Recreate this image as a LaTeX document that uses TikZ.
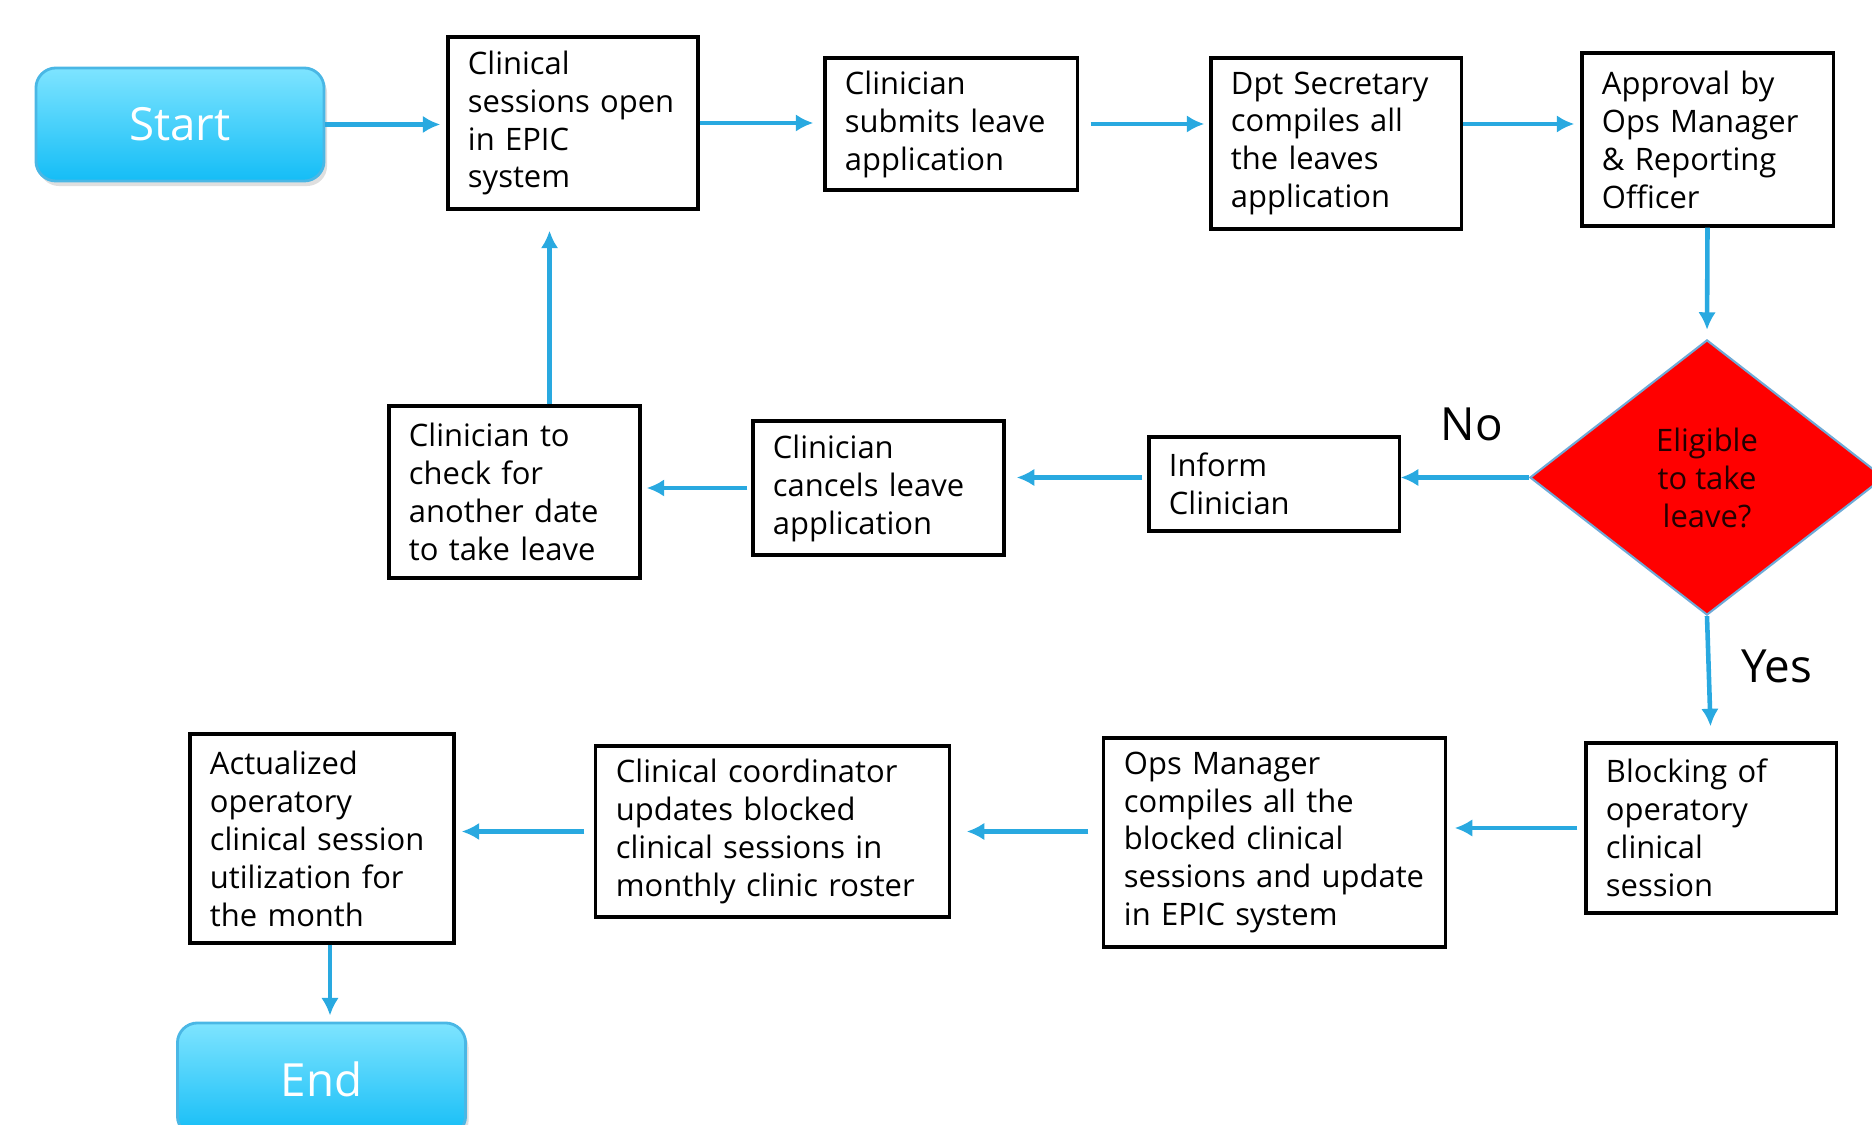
\documentclass[tikz,border=0pt]{standalone}
\usepackage{fontspec}
\setmainfont{Open Sans}
\usetikzlibrary{shapes.geometric,arrows.meta,shadows}

\definecolor{flowblue}{RGB}{41,169,224}
\definecolor{termtop}{RGB}{126,228,255}
\definecolor{termbot}{RGB}{20,189,246}
\definecolor{termedge}{RGB}{74,183,229}
\definecolor{diaedge}{RGB}{110,170,215}
\definecolor{diatext}{RGB}{35,0,0}

\begin{document}
\begin{tikzpicture}[
        x=0.01cm, y=-0.01cm,
        box/.style={draw, line width=0.9pt, fill=white, align=left, inner xsep=0.2cm, inner ysep=0pt,
            font=\fontsize{8.8}{10.8}\selectfont},
        term/.style={draw=termedge, line width=0.8pt, rounded corners=0.2cm, top color=termtop,
            bottom color=termbot, text=white, font=\fontsize{13}{15}\selectfont,
            minimum width=2.88cm, minimum height=1.13cm,
            drop shadow={opacity=0.25, shadow xshift=0.03cm, shadow yshift=-0.05cm}},
        decision/.style={diamond, draw=diaedge, line width=0.6pt, fill=red, text=diatext, align=center,
            minimum width=3.54cm, minimum height=2.75cm, inner sep=0pt,
            font=\fontsize{8.8}{10.8}\selectfont},
        lbl/.style={font=\fontsize{13}{15}\selectfont},
        arr/.style={-{Latex[length=5pt,width=5pt]}, draw=flowblue, line width=1.3pt}
    ]
        \useasboundingbox (0,0) rectangle (1872,1125);

        % Top row
        \node[term] (start) at (180,124.5) {Start};
        \node[box, text width=2.1cm, minimum height=1.72cm] (open) at (573,123)
            {Clinical\\sessions open\\in EPIC\\system};
        \node[box, text width=2.12cm, minimum height=1.32cm] (submit) at (951,124)
            {Clinician\\submits leave\\application};
        \node[box, text width=2.1cm, minimum height=1.71cm] (compile) at (1336,143.5)
            {Dpt Secretary\\compiles all\\the leaves\\application};
        \node[box, text width=2.11cm, minimum height=1.73cm] (approve) at (1707.5,139.5)
            {Approval by\\Ops Manager\\\& Reporting\\Officer};

        % Middle row
        \node[decision] (elig) at (1707,477.5) {Eligible\\to take\\leave?};
        \node[box, text width=2.1cm, minimum height=0.94cm] (inform) at (1274,484)
            {Inform\\Clinician};
        \node[box, text width=2.11cm, minimum height=1.34cm] (cancel) at (878.5,488)
            {Clinician\\cancels leave\\application};
        \node[box, text width=2.11cm, minimum height=1.72cm] (check) at (514.5,492)
            {Clinician to\\check for\\another date\\to take leave};
        \node[lbl] (nolbl) at (1472,424) {No};
        \node[lbl] (yeslbl) at (1777,666) {Yes};

        % Bottom row
        \node[box, text width=2.1cm, minimum height=1.70cm] (block) at (1711,828)
            {Blocking of\\operatory\\clinical\\session};
        \node[box, text width=3.01cm, minimum height=2.09cm] (opsc) at (1274.5,842.5)
            {Ops Manager\\compiles all the\\blocked clinical\\sessions and update\\in EPIC system};
        \node[box, text width=3.13cm, minimum height=1.71cm] (coord) at (772.5,831.5)
            {Clinical coordinator\\updates blocked\\clinical sessions in\\monthly clinic roster};
        \node[box, text width=2.24cm, minimum height=2.09cm] (actual) at (322,838.5)
            {Actualized\\operatory\\clinical session\\utilization for\\the month};
        \node[term] (end) at (321.5,1079.5) {End};

        % Connectors
        \draw[arr, shorten >=0.06cm] (start.east) -- (start.east -| open.west);
        \draw[arr, shorten >=0.1cm] (open.east) -- (open.east -| submit.west);
        \draw[arr, shorten <=0.12cm, shorten >=0.05cm] (submit.east) -- (submit.east -| compile.west);
        \draw[arr, shorten >=0.06cm] (compile.east |- submit.east) -- (approve.west |- submit.east);
        \draw[arr, shorten >=0.09cm] (approve.south) -- (elig.north);
        \draw[arr] (elig.west) -- (elig.west -| inform.east);
        \draw[arr, shorten <=0.05cm, shorten >=0.11cm] (inform.west |- elig.west) -- (cancel.east |- elig.west);
        \draw[arr, shorten <=0.04cm, shorten >=0.05cm] (cancel.west) -- (cancel.west -| check.east);
        \draw[arr, shorten >=0.2cm] ([xshift=0.35cm]check.north) -- ([xshift=0.35cm]check.north |- open.south);
        \draw[arr, shorten >=0.15cm] (elig.south) -- (block.north);
        \draw[arr, shorten <=0.07cm, shorten >=0.08cm] (block.west) -- (block.west -| opsc.east);
        \draw[arr, shorten <=0.14cm, shorten >=0.16cm] (opsc.west |- coord.east) -- (coord.east);
        \draw[arr, shorten <=0.1cm, shorten >=0.06cm] (coord.west) -- (coord.west -| actual.east);
        \draw[arr, shorten >=0.06cm] ([xshift=0.08cm]actual.south) -- ([xshift=0.08cm]actual.south |- end.north);
    \end{tikzpicture}
\end{document}
